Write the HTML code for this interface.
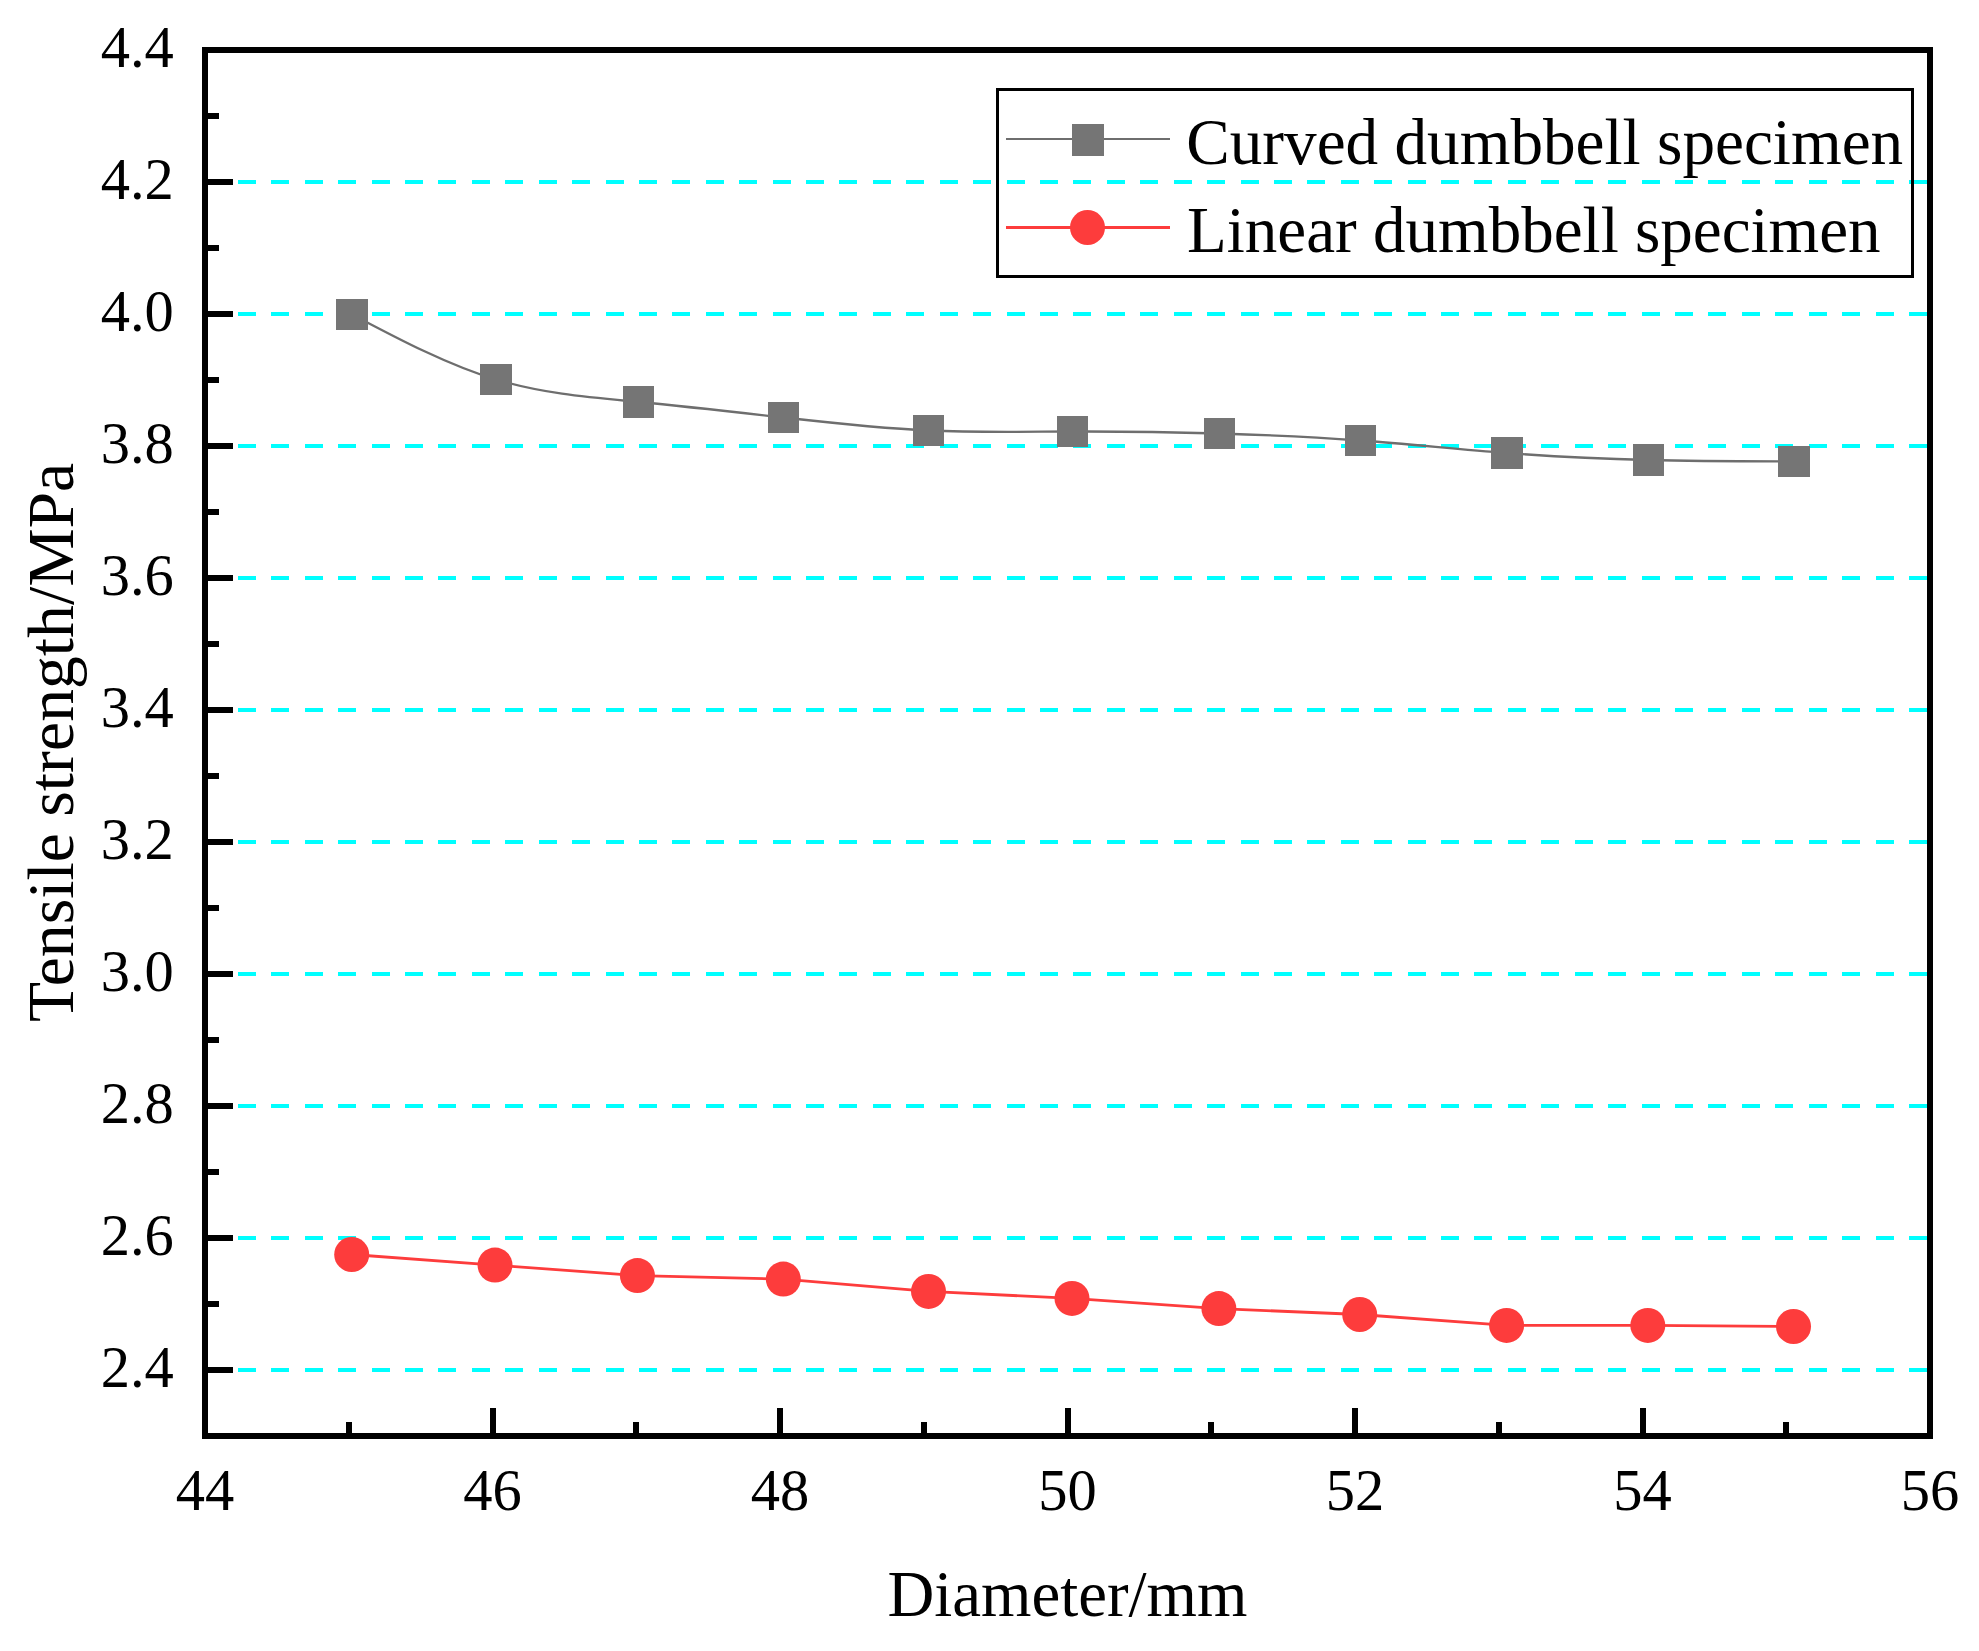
<!DOCTYPE html>
<html lang="en"><head><meta charset="utf-8"><title>Tensile strength vs diameter</title>
<style>html,body{margin:0;padding:0;background:#fff}body{width:1979px;height:1651px;overflow:hidden}svg{display:block}text{font-family:"Liberation Serif","Times New Roman",serif;fill:#000}</style></head><body>
<svg width="1979" height="1651" viewBox="0 0 1979 1651">
<rect width="1979" height="1651" fill="#fff"/>
<g stroke="#00ffff" stroke-width="4" stroke-dasharray="18 15.42" shape-rendering="crispEdges">
<line x1="204.5" y1="1370.0" x2="1927" y2="1370.0"/>
<line x1="204.5" y1="1238.0" x2="1927" y2="1238.0"/>
<line x1="204.5" y1="1106.0" x2="1927" y2="1106.0"/>
<line x1="204.5" y1="974.0" x2="1927" y2="974.0"/>
<line x1="204.5" y1="842.0" x2="1927" y2="842.0"/>
<line x1="204.5" y1="710.0" x2="1927" y2="710.0"/>
<line x1="204.5" y1="578.0" x2="1927" y2="578.0"/>
<line x1="204.5" y1="446.0" x2="1927" y2="446.0"/>
<line x1="204.5" y1="314.0" x2="1927" y2="314.0"/>
<line x1="204.5" y1="182.0" x2="1927" y2="182.0"/>
</g>
<path d="M352.0 314.4 C400.0 339.72 448.0 365.04 496.0 379.5 C543.5 393.81 591.0 397.48 638.5 402.0 C686.8 406.60 735.2 412.07 783.5 417.5 C831.8 422.93 880.2 428.32 928.5 430.5 C976.5 432.67 1024.6 431.66 1072.6 431.5 C1121.6 431.33 1170.5 432.04 1219.5 433.5 C1266.5 434.90 1313.5 437.00 1360.5 440.5 C1409.3 444.14 1458.2 449.29 1507.0 453.0 C1554.2 456.58 1601.3 458.81 1648.5 460.0 C1697.0 461.23 1745.5 461.36 1794.0 461.5" fill="none" stroke="#6e6e6e" stroke-width="2.3"/>
<polyline points="351.7,1254.5 495.0,1265.1 637.4,1275.6 783.3,1279.1 928.5,1291.4 1072.0,1298.4 1218.9,1308.6 1359.7,1314.5 1506.6,1325.4 1647.8,1325.4 1793.5,1326.5" fill="none" stroke="#fd3c3c" stroke-width="2.8"/>
<g fill="#757575" shape-rendering="crispEdges">
<rect x="336" y="299" width="32" height="31"/>
<rect x="480" y="364" width="32" height="31"/>
<rect x="623" y="386" width="31" height="32"/>
<rect x="768" y="402" width="31" height="31"/>
<rect x="913" y="415" width="31" height="31"/>
<rect x="1057" y="416" width="31" height="31"/>
<rect x="1204" y="418" width="31" height="31"/>
<rect x="1345" y="425" width="31" height="31"/>
<rect x="1491" y="437" width="32" height="32"/>
<rect x="1633" y="444" width="31" height="32"/>
<rect x="1778" y="446" width="32" height="31"/>
</g>
<g fill="#fd3c3c">
<circle cx="351.7" cy="1254.5" r="17.5"/>
<circle cx="495.0" cy="1265.1" r="17.5"/>
<circle cx="637.4" cy="1275.6" r="17.5"/>
<circle cx="783.3" cy="1279.1" r="17.5"/>
<circle cx="928.5" cy="1291.4" r="17.5"/>
<circle cx="1072.0" cy="1298.4" r="17.5"/>
<circle cx="1218.9" cy="1308.6" r="17.5"/>
<circle cx="1359.7" cy="1314.5" r="17.5"/>
<circle cx="1506.6" cy="1325.4" r="17.5"/>
<circle cx="1647.8" cy="1325.4" r="17.5"/>
<circle cx="1793.5" cy="1326.5" r="17.5"/>
</g>
<g stroke="#000" stroke-width="6" shape-rendering="crispEdges">
<line x1="205" y1="1370.0" x2="233" y2="1370.0"/>
<line x1="205" y1="1304.0" x2="219" y2="1304.0"/>
<line x1="205" y1="1238.0" x2="233" y2="1238.0"/>
<line x1="205" y1="1172.0" x2="219" y2="1172.0"/>
<line x1="205" y1="1106.0" x2="233" y2="1106.0"/>
<line x1="205" y1="1040.0" x2="219" y2="1040.0"/>
<line x1="205" y1="974.0" x2="233" y2="974.0"/>
<line x1="205" y1="908.0" x2="219" y2="908.0"/>
<line x1="205" y1="842.0" x2="233" y2="842.0"/>
<line x1="205" y1="776.0" x2="219" y2="776.0"/>
<line x1="205" y1="710.0" x2="233" y2="710.0"/>
<line x1="205" y1="644.0" x2="219" y2="644.0"/>
<line x1="205" y1="578.0" x2="233" y2="578.0"/>
<line x1="205" y1="512.0" x2="219" y2="512.0"/>
<line x1="205" y1="446.0" x2="233" y2="446.0"/>
<line x1="205" y1="380.0" x2="219" y2="380.0"/>
<line x1="205" y1="314.0" x2="233" y2="314.0"/>
<line x1="205" y1="248.0" x2="219" y2="248.0"/>
<line x1="205" y1="182.0" x2="233" y2="182.0"/>
<line x1="205" y1="116.0" x2="219" y2="116.0"/>
<line x1="348.8" y1="1436" x2="348.8" y2="1422"/>
<line x1="492.5" y1="1436" x2="492.5" y2="1408"/>
<line x1="636.2" y1="1436" x2="636.2" y2="1422"/>
<line x1="780.0" y1="1436" x2="780.0" y2="1408"/>
<line x1="923.8" y1="1436" x2="923.8" y2="1422"/>
<line x1="1067.5" y1="1436" x2="1067.5" y2="1408"/>
<line x1="1211.2" y1="1436" x2="1211.2" y2="1422"/>
<line x1="1355.0" y1="1436" x2="1355.0" y2="1408"/>
<line x1="1498.8" y1="1436" x2="1498.8" y2="1422"/>
<line x1="1642.5" y1="1436" x2="1642.5" y2="1408"/>
<line x1="1786.2" y1="1436" x2="1786.2" y2="1422"/>
</g>
<rect x="205" y="50" width="1725" height="1386" fill="none" stroke="#000" stroke-width="6" shape-rendering="crispEdges"/>
<g font-size="58.5" text-anchor="end">
<text x="173.8" y="1387.0">2.4</text>
<text x="173.8" y="1255.0">2.6</text>
<text x="173.8" y="1123.0">2.8</text>
<text x="173.8" y="991.0">3.0</text>
<text x="173.8" y="859.0">3.2</text>
<text x="173.8" y="727.0">3.4</text>
<text x="173.8" y="595.0">3.6</text>
<text x="173.8" y="463.0">3.8</text>
<text x="173.8" y="331.0">4.0</text>
<text x="173.8" y="199.0">4.2</text>
<text x="173.8" y="67.0">4.4</text>
</g>
<g font-size="58.5" text-anchor="middle">
<text x="205.0" y="1509.6">44</text>
<text x="492.5" y="1509.6">46</text>
<text x="780.0" y="1509.6">48</text>
<text x="1067.5" y="1509.6">50</text>
<text x="1355.0" y="1509.6">52</text>
<text x="1642.5" y="1509.6">54</text>
<text x="1930.0" y="1509.6">56</text>
</g>
<text x="1067.5" y="1616.2" font-size="64.8" text-anchor="middle">Diameter/mm</text>
<text transform="translate(73.3 742.3) rotate(-90)" font-size="65.7" text-anchor="middle">Tensile strength/MPa</text>
<rect x="997.5" y="89.5" width="915" height="187" fill="none" stroke="#000" stroke-width="3" shape-rendering="crispEdges"/>
<line x1="1006" y1="139" x2="1170" y2="139" stroke="#6e6e6e" stroke-width="2" shape-rendering="crispEdges"/>
<rect x="1072" y="124" width="32" height="32" fill="#757575" shape-rendering="crispEdges"/>
<line x1="1006" y1="227.5" x2="1170" y2="227.5" stroke="#fd3c3c" stroke-width="3" shape-rendering="crispEdges"/>
<circle cx="1087.5" cy="227.5" r="17.5" fill="#fd3c3c"/>
<text x="1186.3" y="163.8" font-size="65.2">Curved dumbbell specimen</text>
<text x="1187" y="251.6" font-size="65.05">Linear dumbbell specimen</text>
</svg></body></html>
